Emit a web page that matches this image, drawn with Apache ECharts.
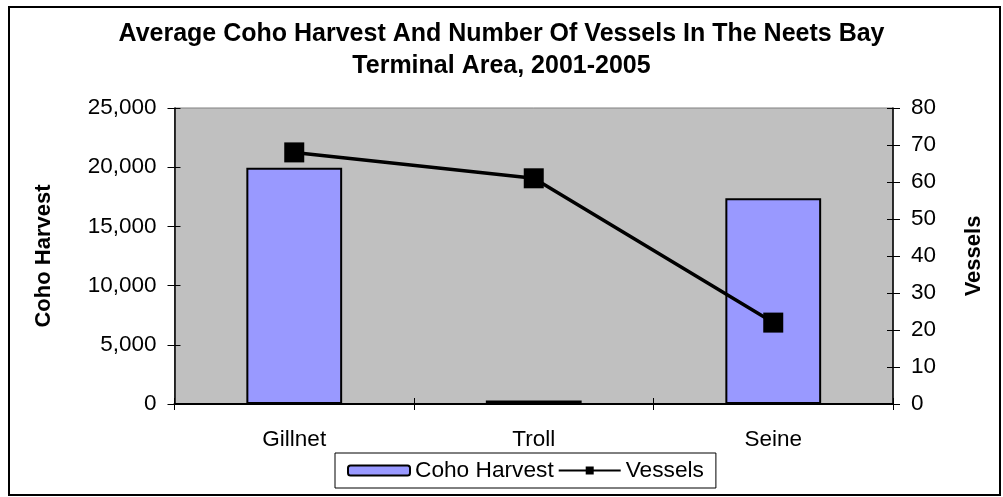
<!DOCTYPE html>
<html>
<head>
<meta charset="utf-8">
<script src="https://cdn.jsdelivr.net/npm/echarts@6/dist/echarts.min.js"></script>
<style>
  html, body { margin: 0; padding: 0; background: #fff; }
  #chart { width: 1003px; height: 497px; }
</style>
</head>
<body>
<div id="chart"></div>
<script>
// Neets Bay terminal area, 2001-2005 averages by gear type
const categories = ['Gillnet', 'Troll', 'Seine'];
const cohoHarvest = [19950, 300, 17370];
const vessels = [68, 61, 22];

const harvestTicks = { min: 0, max: 25000, interval: 5000 };
const vesselTicks = { min: 0, max: 80, interval: 10 };

const FONT = "'Liberation Sans', Arial, sans-serif";
const LABEL_SIZE = 22.5;

const chart = echarts.init(document.getElementById('chart'), null, { renderer: 'canvas' });

const baseLabel = { color: '#000', fontSize: LABEL_SIZE, fontFamily: FONT };
const axisTitle = { fontSize: 22, fontWeight: 'bold', fontFamily: FONT, color: '#000' };

chart.setOption({
  animation: false,
  backgroundColor: '#fff',
  title: {
    text: 'Average Coho Harvest And Number Of Vessels In The Neets Bay\nTerminal Area, 2001-2005',
    left: 'center',
    top: 13,
    textStyle: { fontSize: 25, fontWeight: 'bold', fontFamily: FONT, color: '#000', lineHeight: 32 }
  },
  graphic: [{
    type: 'rect',
    shape: { x: 9, y: 7, width: 991, height: 488 },
    style: { fill: 'none', stroke: '#000', lineWidth: 2 },
    silent: true,
    z: -1
  }],
  legend: {
    data: ['Coho Harvest', 'Vessels'],
    left: 335,
    top: 453,
    padding: [6, 12, 6, 12],
    borderColor: '#000',
    borderWidth: 1,
    itemWidth: 62,
    itemHeight: 10,
    itemGap: 4,
    textStyle: { fontSize: 22.7, fontFamily: FONT, color: '#000' }
  },
  grid: {
    left: 174.5,
    right: 110,
    top: 108,
    bottom: 93,
    show: true,
    backgroundColor: '#C0C0C0',
    borderColor: '#808080',
    borderWidth: 1
  },
  xAxis: [{
    type: 'category',
    data: categories,
    boundaryGap: true,
    axisLine: { lineStyle: { color: '#000', width: 2 } },
    axisTick: { show: true, inside: false, length: 6, lineStyle: { color: '#000' } },
    axisLabel: Object.assign({ margin: 24 }, baseLabel)
  }, {
    // inner half of the crossing category ticks
    type: 'category',
    data: categories,
    position: 'bottom',
    boundaryGap: true,
    axisLine: { show: false },
    axisTick: { show: true, inside: true, length: 6, lineStyle: { color: '#000' } },
    axisLabel: { show: false }
  }],
  yAxis: [{
    type: 'value',
    position: 'left',
    min: harvestTicks.min, max: harvestTicks.max, interval: harvestTicks.interval,
    name: 'Coho Harvest',
    nameLocation: 'middle',
    nameGap: 120,
    nameTextStyle: axisTitle,
    axisLine: { show: true, lineStyle: { color: '#000', width: 1.5 } },
    axisTick: { show: true, inside: false, length: 7, lineStyle: { color: '#000' } },
    axisLabel: Object.assign({ margin: 18, formatter: v => v.toLocaleString('en-US') }, baseLabel),
    splitLine: { show: false }
  }, {
    type: 'value',
    position: 'right',
    min: vesselTicks.min, max: vesselTicks.max, interval: vesselTicks.interval,
    name: 'Vessels',
    nameLocation: 'middle',
    nameGap: 70,
    nameRotate: 90,
    nameTextStyle: axisTitle,
    axisLine: { show: true, lineStyle: { color: '#000', width: 1.5 } },
    axisTick: { show: true, inside: false, length: 7, lineStyle: { color: '#000' } },
    axisLabel: Object.assign({ margin: 18 }, baseLabel),
    splitLine: { show: false }
  }, {
    // inner halves of the crossing value ticks
    type: 'value',
    position: 'left',
    min: harvestTicks.min, max: harvestTicks.max, interval: harvestTicks.interval,
    axisLine: { show: false },
    axisTick: { show: true, inside: true, length: 6, lineStyle: { color: '#000' } },
    axisLabel: { show: false },
    splitLine: { show: false }
  }, {
    type: 'value',
    position: 'right',
    min: vesselTicks.min, max: vesselTicks.max, interval: vesselTicks.interval,
    axisLine: { show: false },
    axisTick: { show: true, inside: true, length: 6, lineStyle: { color: '#000' } },
    axisLabel: { show: false },
    splitLine: { show: false }
  }],
  series: [{
    name: 'Coho Harvest',
    type: 'bar',
    xAxisIndex: 0,
    yAxisIndex: 0,
    data: cohoHarvest,
    barWidth: '40%',
    itemStyle: { color: '#9999FF', borderColor: '#000', borderWidth: 2 }
  }, {
    name: 'Vessels',
    type: 'line',
    xAxisIndex: 0,
    yAxisIndex: 1,
    data: vessels,
    symbol: 'rect',
    symbolSize: 20,
    lineStyle: { color: '#000', width: 3.5 },
    itemStyle: { color: '#000' },
    z: 5
  }]
});
</script>
</body>
</html>
